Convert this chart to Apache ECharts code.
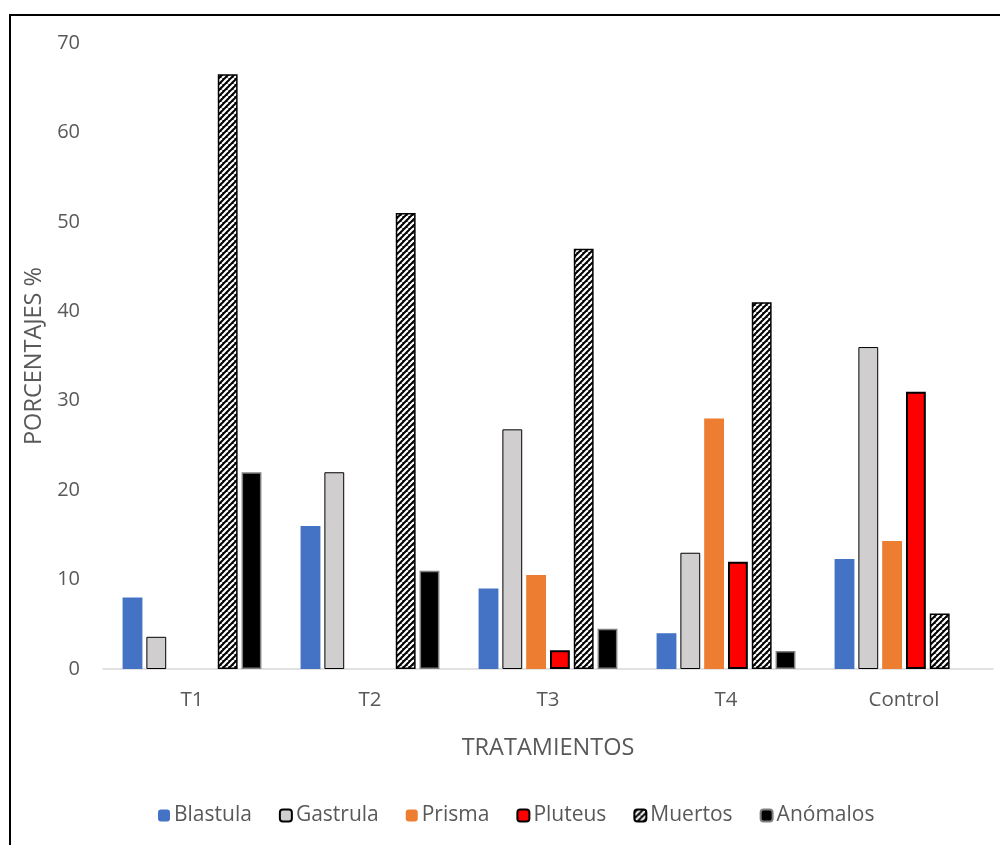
<!DOCTYPE html>
<html>
<head>
<meta charset="utf-8">
<script src="https://cdn.jsdelivr.net/npm/echarts@6/dist/echarts.min.js"></script>
<style>
  html, body { margin: 0; padding: 0; background: #fff; }
  #chart { width: 1000px; height: 845px; }
</style>
</head>
<body>
<div id="chart"></div>
<script>
// Treatments and developmental stages (percentages)
const categories = ['T1', 'T2', 'T3', 'T4', 'Control'];
const blastula = [8, 16, 9, 4, 12.3];
const gastrula = [3.6, 22, 26.8, 13, 36];
const prisma   = [null, null, 10.5, 28, 14.3];
const pluteus  = [null, null, 2.1, 12, 31];
const muertos  = [66.5, 51, 47, 41, 6.2];
const anomalos = [22, 11, 4.5, 2, null];
const yTicks = [0, 10, 20, 30, 40, 50, 60, 70];

// Diagonal black/white stripe tile used for "Muertos"
function stripeTile() {
  const s = 6;
  const c = document.createElement('canvas');
  c.width = s; c.height = s;
  const g = c.getContext('2d');
  g.fillStyle = '#000';
  g.fillRect(0, 0, s, s);
  g.strokeStyle = '#fff';
  g.lineWidth = 2.2;
  for (const x0 of [-s, 0, s]) {
    g.beginPath();
    g.moveTo(x0, s);
    g.lineTo(x0 + s, 0);
    g.stroke();
  }
  return c;
}

const FONT = '"Open Sans"';
const TXT = '#595959';

const chart = echarts.init(document.getElementById('chart'), null, { renderer: 'canvas' });

function bar(name, data, itemStyle) {
  return { name, type: 'bar', data, itemStyle, barGap: '20%', barCategoryGap: '22%' };
}

chart.setOption({
  animation: false,
  backgroundColor: '#fff',
  textStyle: { fontFamily: FONT, color: TXT },
  graphic: [{
    type: 'rect',
    shape: { x: 10, y: 15, width: 1000, height: 840 },
    style: { fill: 'none', stroke: '#000', lineWidth: 2 },
    silent: true
  }],
  grid: { left: 103, right: 7, top: 43, bottom: 176, containLabel: false },
  legend: {
    left: 153, top: 800,
    itemWidth: 12, itemHeight: 12, itemGap: 27,
    textStyle: { fontFamily: FONT, fontSize: 21, color: TXT, padding: [0, 0, 0, -1] },
    data: ['Blastula', 'Gastrula', 'Prisma', 'Pluteus', 'Muertos', 'Anómalos']
  },
  xAxis: {
    type: 'category',
    data: categories,
    name: 'TRATAMIENTOS',
    nameLocation: 'middle',
    nameGap: 67,
    nameTextStyle: { fontFamily: FONT, fontSize: 23.5, color: TXT },
    axisLine: { lineStyle: { color: '#d9d9d9', width: 1.5 } },
    axisTick: { show: false },
    axisLabel: { fontFamily: FONT, fontSize: 20.5, color: TXT, margin: 21 }
  },
  yAxis: {
    type: 'value',
    min: yTicks[0], max: yTicks[yTicks.length - 1], interval: 10,
    name: 'PORCENTAJES %',
    nameLocation: 'middle',
    nameGap: 57,
    nameRotate: 90,
    nameTextStyle: { fontFamily: FONT, fontSize: 23.5, color: TXT },
    axisLine: { show: false },
    axisTick: { show: false },
    splitLine: { show: false },
    axisLabel: { fontFamily: FONT, fontSize: 20, color: TXT, margin: 23 }
  },
  series: [
    bar('Blastula', blastula, { color: '#4472C4' }),
    bar('Gastrula', gastrula, { color: '#D0CECE', borderColor: '#000', borderWidth: 1 }),
    bar('Prisma', prisma, { color: '#ED7D31' }),
    bar('Pluteus', pluteus, { color: '#FF0000', borderColor: '#000', borderWidth: 2 }),
    bar('Muertos', muertos, {
      color: { image: stripeTile(), repeat: 'repeat' },
      borderColor: '#000', borderWidth: 1.5
    }),
    bar('Anómalos', anomalos, { color: '#000', borderColor: '#7f7f7f', borderWidth: 1.5 })
  ]
});
</script>
</body>
</html>
